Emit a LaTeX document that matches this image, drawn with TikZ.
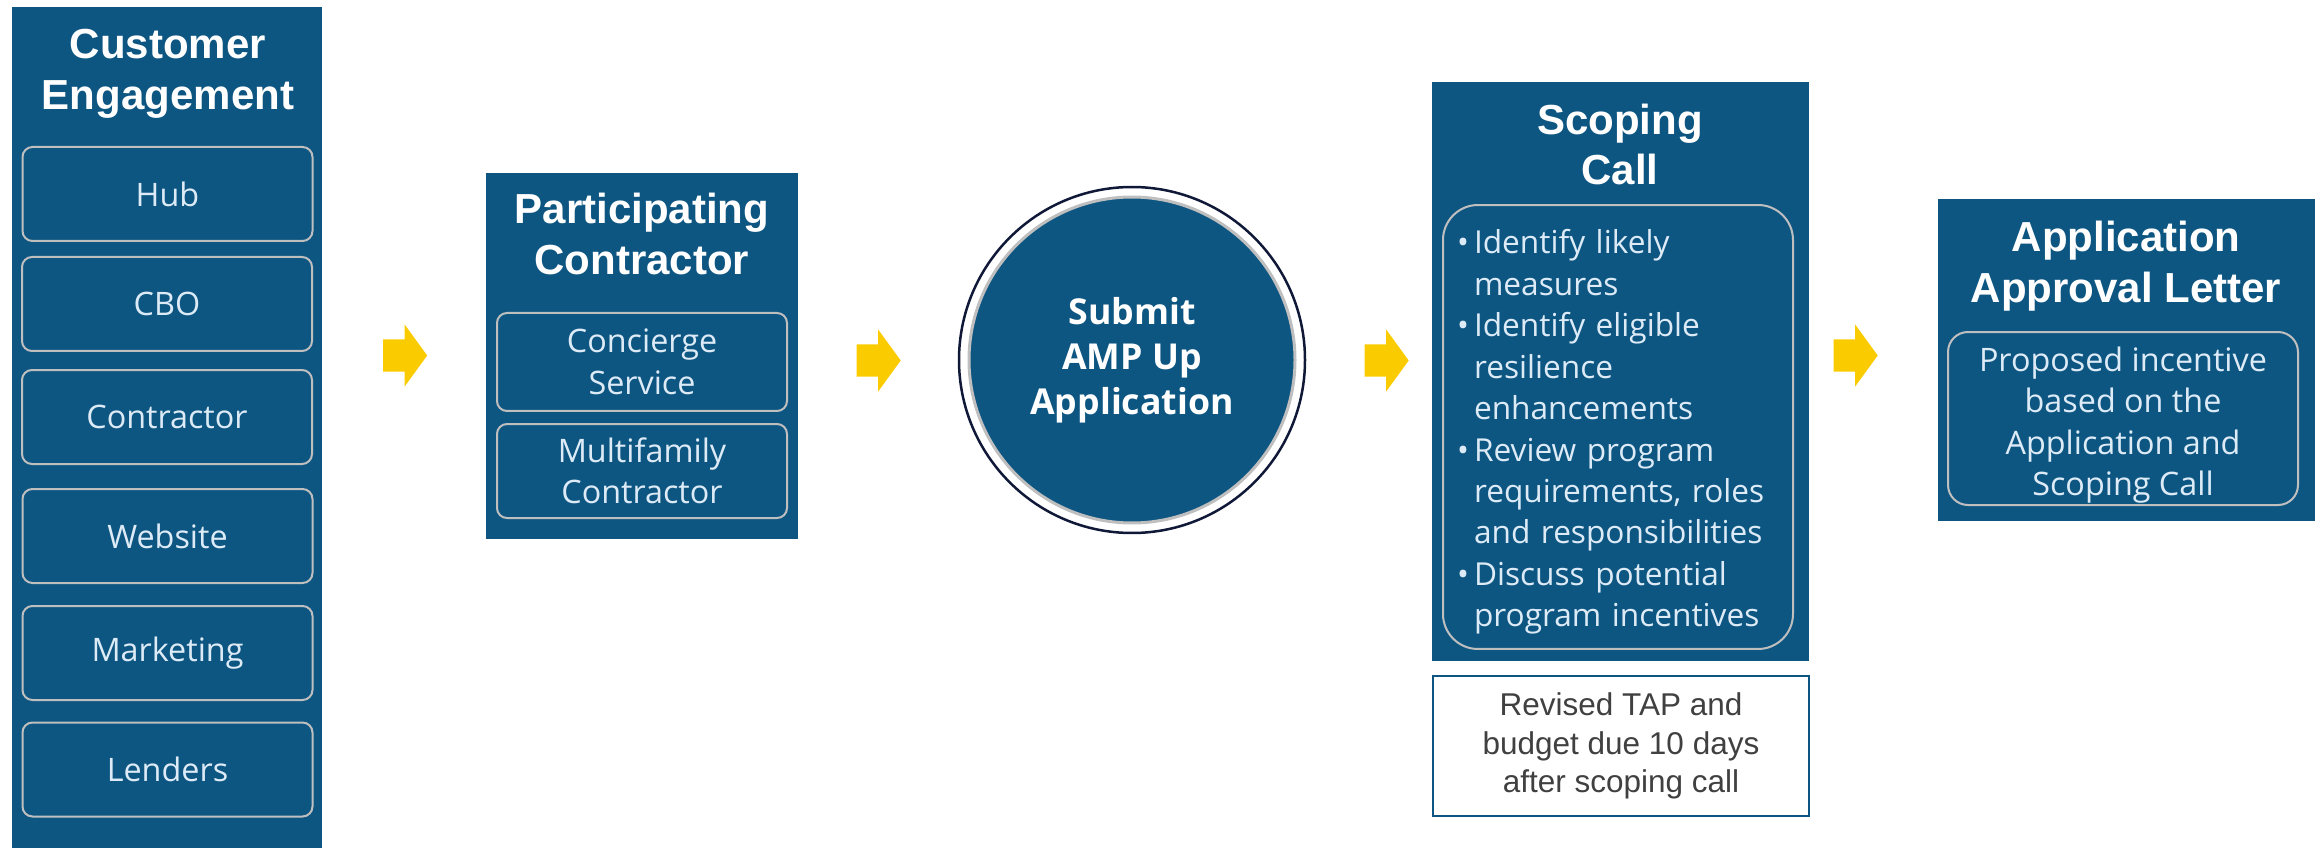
\documentclass[tikz,border=0pt]{standalone}
\usepackage{fontspec}
\setmainfont{Open Sans}
\newfontfamily\arialfont{Liberation Sans}
\usetikzlibrary{shapes.arrows,positioning}

\definecolor{panelblue}{RGB}{14,86,130}
\definecolor{boxline}{RGB}{191,191,191}
\definecolor{boxtext}{RGB}{221,235,247}
\definecolor{arrowyellow}{RGB}{250,204,0}
\definecolor{ringnavy}{RGB}{16,24,56}
\definecolor{notegray}{RGB}{64,64,64}

\newcommand{\bulletmark}{\makebox[1.7mm][l]{\textbullet}}
\newcommand{\bulletgap}{\hspace*{1.7mm}}

\begin{document}
\begin{tikzpicture}[x=0.1mm,y=-0.1mm,
        panel/.style={rectangle,fill=panelblue,inner sep=0pt},
        paneltitle/.style={text=white,align=center,inner sep=0pt,
            font=\arialfont\bfseries\fontsize{11.95}{14.5}\selectfont},
        subbox/.style={rectangle,rounded corners=1mm,draw=boxline,line width=0.2mm,
            text=boxtext,align=center,inner sep=0pt,minimum width=29mm,
            font=\fontsize{9.2}{11.8}\selectfont},
        subtext/.style={text=boxtext,align=center,inner sep=0pt,
            font=\fontsize{9.2}{11.8}\selectfont},
        flowarrow/.style={single arrow,fill=arrowyellow,anchor=tail,minimum height=4.4mm,
            minimum width=6.1mm,inner xsep=0pt,inner ysep=1.55mm,
            single arrow head extend=1.5mm,single arrow tip angle=108}]
        \useasboundingbox (0,0) rectangle (2315,848);

        \node[panel,minimum width=31mm,minimum height=84.1mm] (ce) at (167,427.5) {};
        \node[paneltitle] (cetitle) at (168,74) {Customer\\Engagement};
        \node[subbox,minimum height=9.4mm] (hub) at (167.5,194) {Hub};
        \node[subbox,minimum height=9.4mm] (cbo) at (167,304) {CBO};
        \node[subbox,minimum height=9.4mm] (contractor) at (167,417) {Contractor};
        \node[subbox,minimum height=9.4mm] (website) at (167.5,536) {Website};
        \node[subbox,minimum height=9.4mm] (marketing) at (167.5,653) {Marketing};
        \node[subbox,minimum height=9.4mm] (lenders) at (167.5,769.5) {Lenders};

        \node[panel,minimum width=31.2mm,minimum height=36.6mm] (pc) at (642,356) {};
        \node[paneltitle] (pctitle) at (642,234) {Participating\\Contractor};
        \node[subbox,minimum height=9.8mm] (concierge) at (642,362) {Concierge\\Service};
        \node[subbox,minimum height=9.4mm] (multifamily) at (642,471) {Multifamily\\Contractor};

        \node[circle,draw=ringnavy,line width=0.25mm,minimum size=34.6mm] (ring) at (1132,360) {};
        \node[circle,fill=panelblue,draw=boxline,line width=0.3mm,minimum size=32.6mm,
            text=white,align=center,inner sep=0pt,
            font=\bfseries\fontsize{10.15}{12.8}\selectfont] (submit) at (ring) {Submit\\AMP Up\\Application};

        \node[panel,minimum width=37.7mm,minimum height=57.9mm] (sc) at (1620.5,371.5) {};
        \node[paneltitle] (sctitle) at (1620,144.5) {Scoping\\Call};
        \node[subbox,rounded corners=3.5mm,minimum width=35mm,minimum height=44.4mm] (tasks) at (1618,427) {};
        \node[subtext,align=left,text width=32.2mm,font=\fontsize{9}{11.8}\selectfont] (taskstext) at (1618,432)
            {\bulletmark Identify likely\\
             \bulletgap measures\\
             \bulletmark Identify eligible\\
             \bulletgap resilience\\
             \bulletgap enhancements\\
             \bulletmark Review program\\
             \bulletgap requirements, roles\\
             \bulletgap and responsibilities\\
             \bulletmark Discuss potential\\
             \bulletgap program incentives};
        \node[rectangle,draw=panelblue,line width=0.15mm,minimum width=37.6mm,minimum height=14mm,
            text=notegray,align=center,inner sep=0pt,
            font=\arialfont\fontsize{8.96}{10.95}\selectfont] (note) at (1621,746)
            {Revised TAP and\\budget due 10 days\\after scoping call};

        \node[panel,minimum width=37.7mm,minimum height=32.2mm] (al) at (2126.5,360) {};
        \node[paneltitle] (altitle) at (2126,266) {Application\\Approval Letter};
        \node[subbox,rounded corners=2mm,minimum width=35mm,minimum height=17.3mm] (incentive) at (2123,418.5) {};
        \node[subtext] (incentivetext) at (2123,425)
            {Proposed incentive\\based on the\\Application and\\Scoping Call};

        \node[flowarrow] (a1) at (382.5,355.5) {};
        \node[flowarrow] (a2) at (856,360.5) {};
        \node[flowarrow] (a3) at (1364,360.5) {};
        \node[flowarrow] (a4) at (1833,355.5) {};
    \end{tikzpicture}
\end{document}
